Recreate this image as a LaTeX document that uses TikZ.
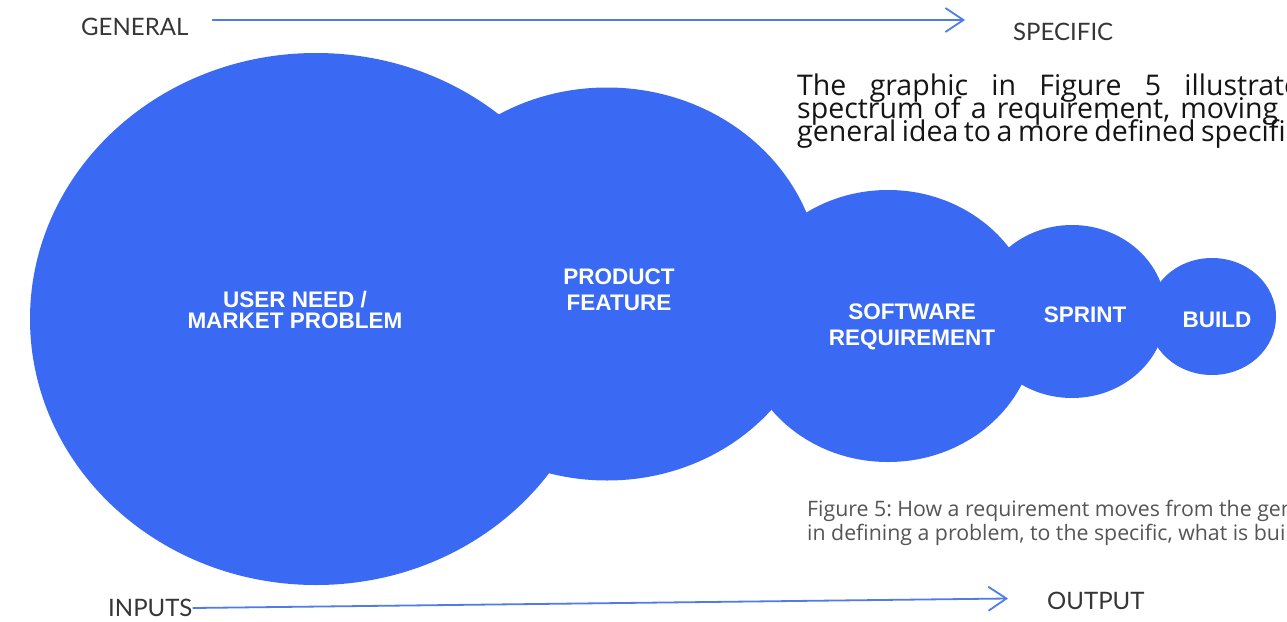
\documentclass[tikz,border=0pt]{standalone}
\usepackage{fontspec}
\usetikzlibrary{arrows.meta,shapes.geometric}
\newfontfamily\labfont{Lato}
\newfontfamily\bubfont{Liberation Sans}
\newfontfamily\bodyfont{Open Sans}
\definecolor{bubblue}{HTML}{3A69F4}
\definecolor{flowblue}{HTML}{4F7CE8}
\definecolor{labgray}{HTML}{363636}
\definecolor{capgray}{HTML}{555555}
\definecolor{bodyink}{HTML}{151515}
\tikzset{
  bubble/.style={ellipse, fill=bubblue, draw=none, inner sep=0pt, outer sep=0pt},
  bubtext/.style={text=white, align=center, inner sep=0pt,
    font=\bubfont\bfseries\fontsize{22.5}{26}\selectfont},
  axislabel/.style={text=labgray, inner sep=0pt, font=\labfont\fontsize{24}{24}\selectfont},
  flow/.style={draw=flowblue, line width=1.8pt,
    -{Straight Barb[length=18pt, width=24pt, line width=1.8pt]}},
  paraline/.style={anchor=base west, inner sep=0pt, text=bodyink,
    font=\bodyfont\frenchspacing\fontsize{28.5}{23}\selectfont},
  capline/.style={anchor=base west, inner sep=0pt, text=capgray,
    font=\bodyfont\frenchspacing\fontsize{21.3}{24}\selectfont}
}
\newcommand\wsp{\hskip 7pt plus 1fil minus 5pt\relax}
\begin{document}
\begin{tikzpicture}[x=1pt, y=-1pt]
  \useasboundingbox (0,0) rectangle (1287,621);
  \fill[white] (0,0) rectangle (1287,621);
  \clip (0,0) rectangle (1287,621);

  % the five bubbles, from general to specific
  \node[bubble, minimum width=572pt, minimum height=532pt] (need)   at (316,319) {};
  \node[bubble, minimum width=428pt, minimum height=393pt] (feat)   at (607,284) {};
  \node[bubble, minimum width=296pt, minimum height=272pt] (swreq)  at (888,326) {};
  \node[bubble, minimum width=188pt, minimum height=173pt] (sprint) at (1072,311.5) {};
  \node[bubble, minimum width=128pt, minimum height=117pt] (build)  at (1212,316.5) {};

  % bubble captions
  \node[bubtext, font=\bubfont\bfseries\fontsize{22.5}{21}\selectfont] (needtxt) at (295,310) {USER NEED /\\MARKET PROBLEM};
  \node[bubtext] (feattxt)   at (619,290) {PRODUCT\\FEATURE};
  \node[bubtext] (swreqtxt)  at (912,327) {SOFTWARE\\REQUIREMENT};
  \node[bubtext] (sprinttxt) at (1085,315) {SPRINT};
  \node[bubtext] (buildtxt)  at (1217,320) {BUILD};

  % top axis
  \node[axislabel, anchor=west] (general)  at (81,27) {GENERAL};
  \node[axislabel, anchor=west] (specific) at (1013,32) {SPECIFIC};
  \coordinate (topstart) at (212,20);
  \coordinate (topend)   at (965,20);
  \draw[flow] (topstart) -- (topend);

  % bottom axis
  \node[axislabel, anchor=west] (inputs) at (108,608) {INPUTS};
  \node[axislabel, anchor=west] (output) at (1047,601) {OUTPUT};
  \coordinate (botstart) at (inputs.east);
  \coordinate (botend)   at (1008,598.5);
  \draw[flow] (botstart) -- (botend);

  % body paragraph
  \node[paraline] (para1) at (797,95)  {\hbox to 503pt{The\wsp graphic\wsp in\wsp Figure\wsp 5\wsp illustrate}};
  \node[paraline] (para2) at (797,118) {\hbox to 481pt{spectrum\wsp of\wsp a\wsp requirement,\wsp moving}};
  \node[paraline] (para3) at (797,141) {\spaceskip=5.5pt general idea to a more defined specific};

  % figure caption
  \node[capline] (cap1) at (807,516) {Figure 5: How a requirement moves from the general};
  \node[capline] (cap2) at (807,540) {in defining a problem, to the specific, what is built};
\end{tikzpicture}
\end{document}
